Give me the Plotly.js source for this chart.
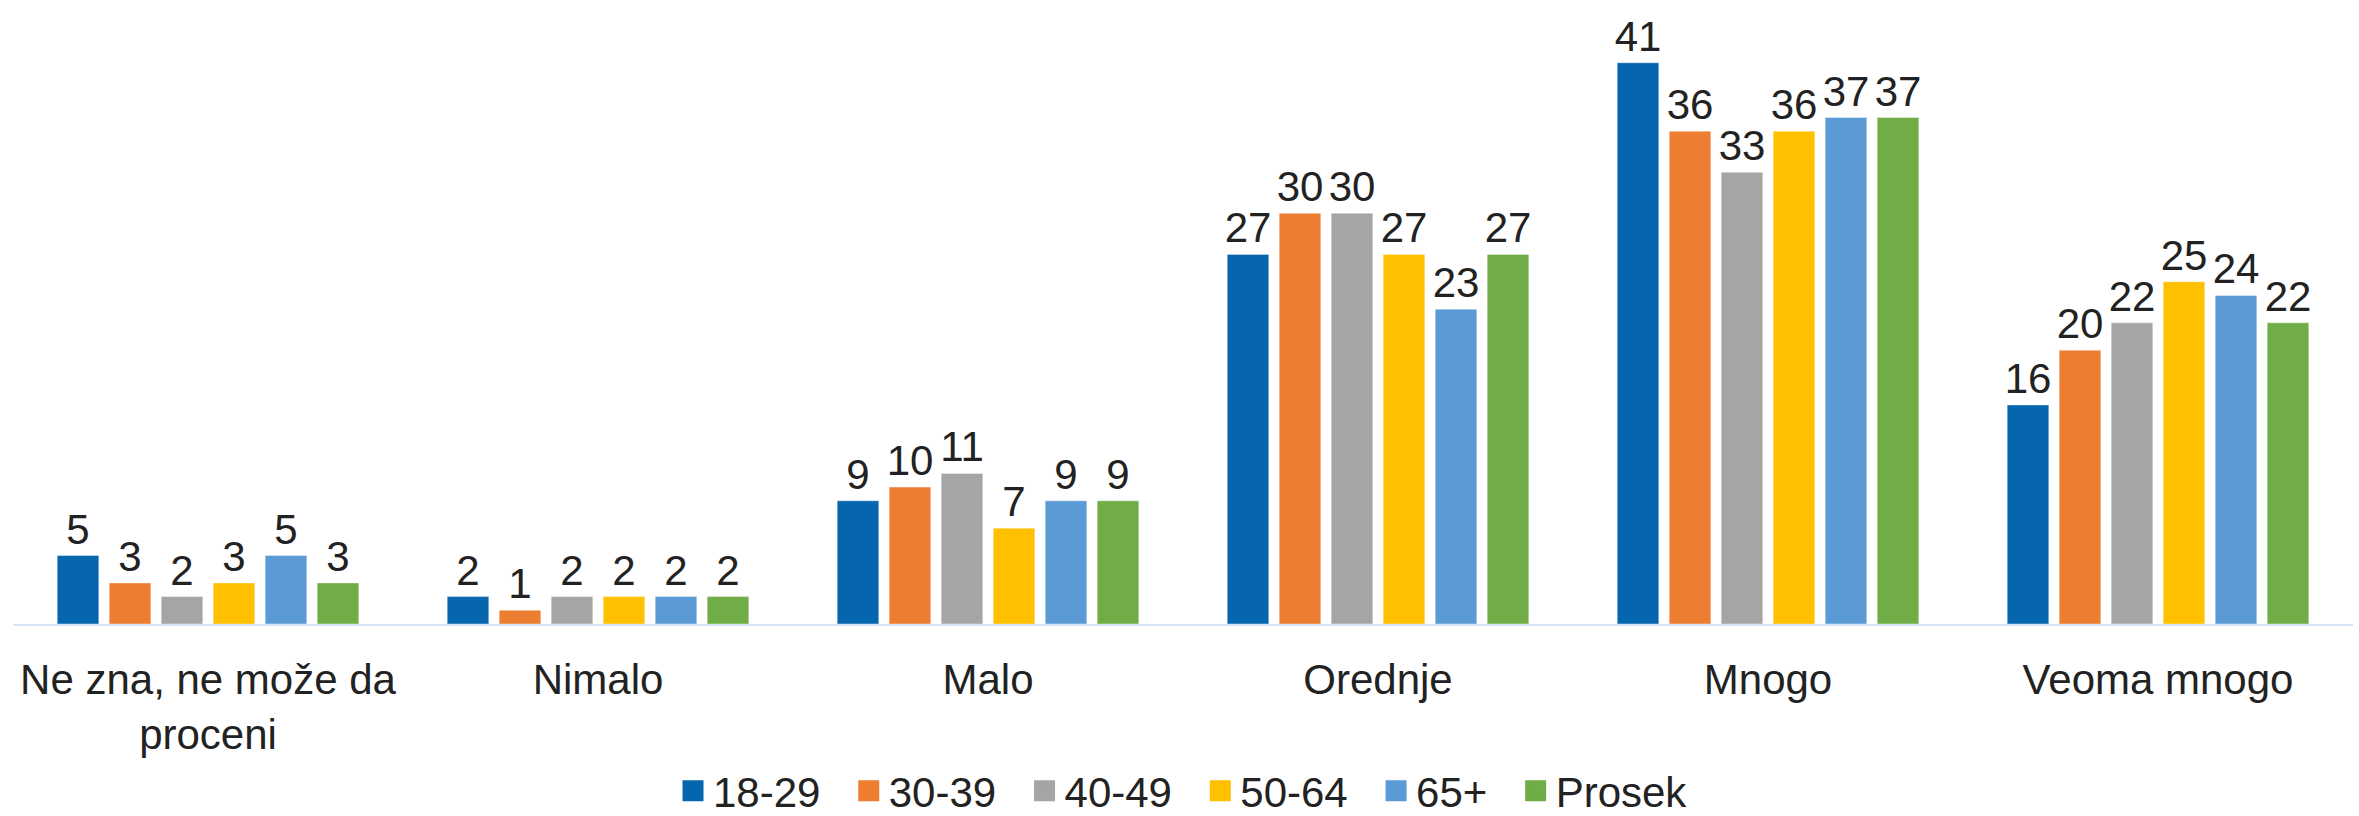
<!DOCTYPE html>
<html>
<head>
<meta charset="utf-8">
<script src="https://cdn.plot.ly/plotly-3.0.1.min.js"></script>
<style>html,body{margin:0;padding:0;background:#fff;}#chart{width:2359px;height:816px;}</style>
</head>
<body>
<div id="chart"></div>
<script>
const categories = ["Ne zna, ne može da<br>proceni", "Nimalo", "Malo", "Orednje", "Mnogo", "Veoma mnogo"];
const seriesNames = ["18-29", "30-39", "40-49", "50-64", "65+", "Prosek"];
const s18_29 = [5, 2, 9, 27, 41, 16];
const s30_39 = [3, 1, 10, 30, 36, 20];
const s40_49 = [2, 2, 11, 30, 33, 22];
const s50_64 = [3, 2, 7, 27, 36, 25];
const s65plus = [5, 2, 9, 23, 37, 24];
const sProsek = [3, 2, 9, 27, 37, 22];
const colors = ["#0665AF", "#ED7D31", "#A5A5A5", "#FFC000", "#5B9BD5", "#70AD47"];

const seriesValues = [s18_29, s30_39, s40_49, s50_64, s65plus, sProsek];
const FONT = "Liberation Sans, Arial, sans-serif";
const FS = 42;

const traces = [];
seriesValues.forEach((vals, i) => {
  traces.push({
    type: "bar",
    x: categories,
    y: vals,
    name: seriesNames[i],
    marker: {color: colors[i], line: {color: "rgba(255,255,255,0.4)", width: 1}},
    text: vals.map(String),
    textposition: "outside",
    constraintext: "none",
    textfont: {family: FONT, size: FS, color: "#222"},
    cliponaxis: false,
    showlegend: false,
    legendgroup: seriesNames[i],
    hoverinfo: "x+y+name"
  });
});
seriesValues.forEach((vals, i) => {
  traces.push({
    type: "scatter",
    mode: "markers",
    x: [null],
    y: [null],
    name: seriesNames[i] + (i < seriesNames.length - 1 ? "\u00a0\u00a0" : ""),
    legendgroup: seriesNames[i],
    marker: {color: colors[i], symbol: "square", size: 16, line: {color: colors[i], width: 5}},
    showlegend: true
  });
});

const layout = {
  width: 2359,
  height: 816,
  margin: {l: 13, r: 6, t: 8, b: 192, autoexpand: false},
  paper_bgcolor: "#fff",
  plot_bgcolor: "#fff",
  barmode: "group",
  bargap: 0.2,
  bargroupgap: 0.2,
  font: {family: FONT, size: FS, color: "#222"},
  xaxis: {
    type: "category",
    showline: true,
    linecolor: "#D6E7F7",
    linewidth: 2,
    ticks: "outside",
    ticklen: 18,
    tickcolor: "rgba(0,0,0,0)",
    tickfont: {family: FONT, size: FS, color: "#222"},
    showgrid: false,
    zeroline: false,
    automargin: false
  },
  yaxis: {
    range: [0, 45],
    visible: false,
    showgrid: false,
    zeroline: false
  },
  showlegend: true,
  legend: {
    orientation: "h",
    xref: "paper",
    yref: "paper",
    x: 0.5,
    xanchor: "center",
    y: -0.271,
    yanchor: "middle",
    font: {family: FONT, size: FS, color: "#222"},
    itemwidth: 30
  }
};

Plotly.newPlot("chart", traces, layout, {displayModeBar: false, staticPlot: true});
</script>
</body>
</html>
